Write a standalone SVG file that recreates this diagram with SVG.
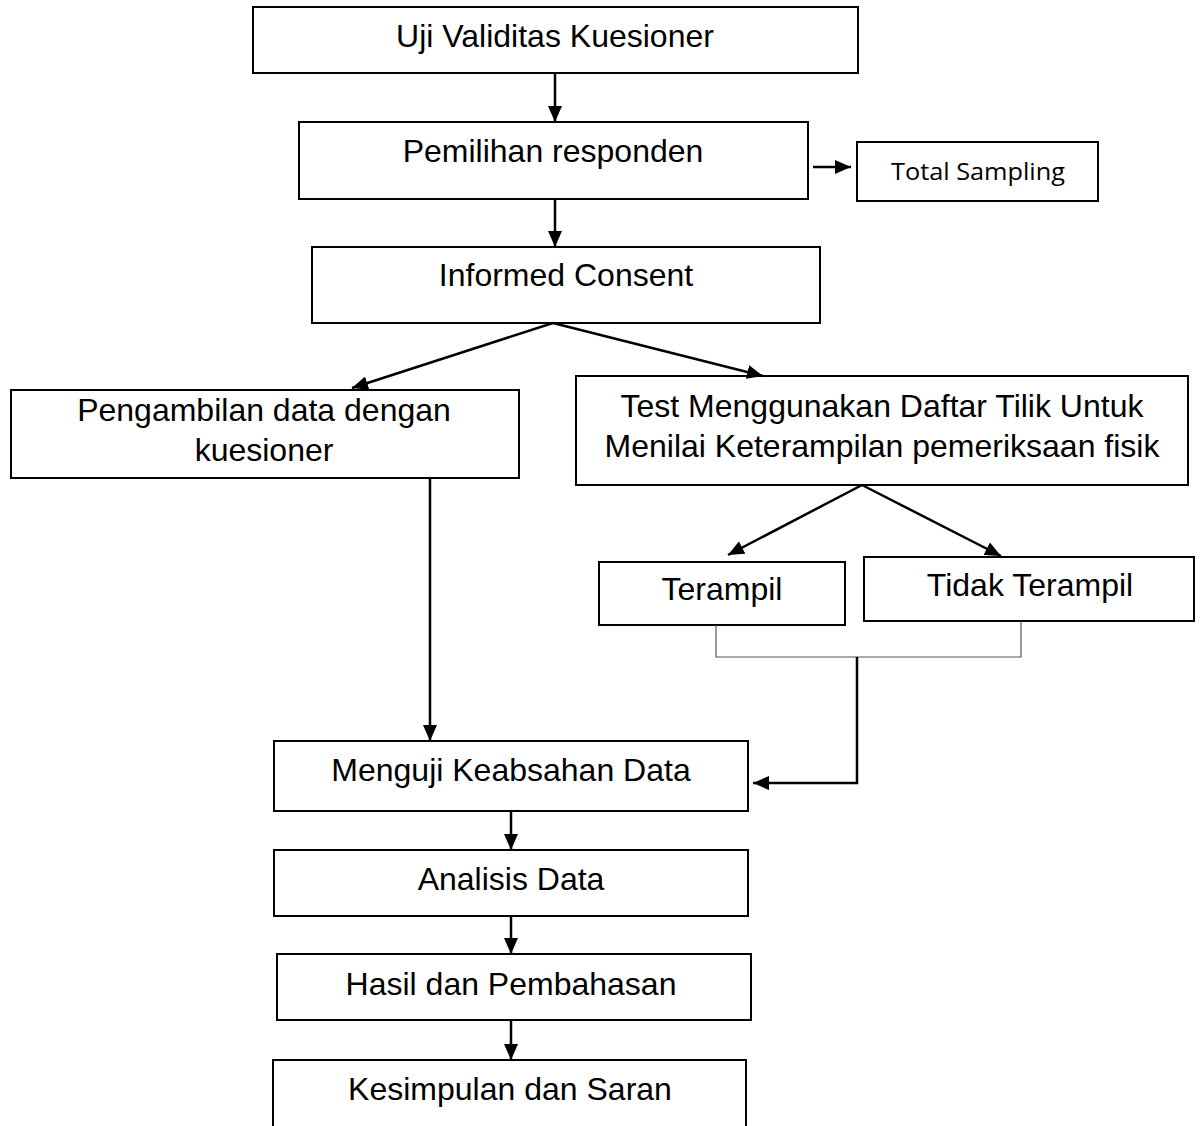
<svg xmlns="http://www.w3.org/2000/svg" width="1203" height="1126" viewBox="0 0 1203 1126">
<style>
.box{fill:#fff;stroke:#000;stroke-width:2}
.t{font-family:"Liberation Sans",Arial,sans-serif;font-size:32px;fill:#000;text-anchor:middle}
.ts{font-family:"Open Sans","Noto Sans",sans-serif;font-size:23px;fill:#000;text-anchor:middle}
.c{fill:none;stroke:#000;stroke-width:2.5}
.thin{fill:none;stroke:#555;stroke-width:1.2}
</style>
<defs>
<marker id="ah" viewBox="0 0 16 14" refX="16" refY="7" markerWidth="16" markerHeight="14" markerUnits="userSpaceOnUse" orient="auto">
<path d="M0,0 L16,7 L0,14 z" fill="#000"/>
</marker>
</defs>
<rect width="1203" height="1126" fill="#fff"/>
<g id="n1"><rect class="box" x="253" y="7" width="605" height="66"/><text class="t" x="555" y="47">Uji Validitas Kuesioner</text></g>
<g id="n2"><rect class="box" x="299" y="122" width="509" height="77"/><text class="t" x="553" y="162">Pemilihan responden</text></g>
<g id="n3"><rect class="box" x="857" y="142" width="241" height="59"/><text class="ts" x="978" y="180" textLength="174" lengthAdjust="spacingAndGlyphs">Total Sampling</text></g>
<g id="n4"><rect class="box" x="312" y="247" width="508" height="76"/><text class="t" x="566" y="286">Informed Consent</text></g>
<g id="n5"><rect class="box" x="11" y="390" width="508" height="88"/><text class="t" x="264" y="421">Pengambilan data dengan</text><text class="t" x="264" y="461">kuesioner</text></g>
<g id="n6"><rect class="box" x="576" y="376" width="612" height="109"/><text class="t" x="882" y="417">Test Menggunakan Daftar Tilik Untuk</text><text class="t" x="882" y="457">Menilai Keterampilan pemeriksaan fisik</text></g>
<g id="n7"><rect class="box" x="599" y="562" width="246" height="63"/><text class="t" x="722" y="600">Terampil</text></g>
<g id="n8"><rect class="box" x="864" y="557" width="330" height="64"/><text class="t" x="1030" y="596">Tidak Terampil</text></g>
<g id="n9"><rect class="box" x="274" y="741" width="474" height="70"/><text class="t" x="511" y="781">Menguji Keabsahan Data</text></g>
<g id="n10"><rect class="box" x="274" y="850" width="474" height="66"/><text class="t" x="511" y="890">Analisis Data</text></g>
<g id="n11"><rect class="box" x="277" y="954" width="474" height="66"/><text class="t" x="511" y="995">Hasil dan Pembahasan</text></g>
<g id="n12"><rect class="box" x="273" y="1060" width="473" height="80"/><text class="t" x="510" y="1100">Kesimpulan dan Saran</text></g>
<g id="connectors">
<line class="c" x1="555" y1="73" x2="555" y2="122" marker-end="url(#ah)"/>
<line class="c" x1="555" y1="199" x2="555" y2="247" marker-end="url(#ah)"/>
<line class="c" x1="813" y1="167" x2="851" y2="167" marker-end="url(#ah)"/>
<line class="c" x1="553" y1="323" x2="352" y2="388" marker-end="url(#ah)"/>
<line class="c" x1="553" y1="323" x2="763" y2="376" marker-end="url(#ah)"/>
<line class="c" x1="430" y1="478" x2="430" y2="741" marker-end="url(#ah)"/>
<line class="c" x1="862" y1="485" x2="728" y2="555" marker-end="url(#ah)"/>
<line class="c" x1="862" y1="485" x2="1001" y2="556" marker-end="url(#ah)"/>
<polyline class="thin" points="716,625 716,657 1021,657 1021,621"/>
<polyline class="c" points="857,657 857,783 753,783" marker-end="url(#ah)"/>
<line class="c" x1="511" y1="811" x2="511" y2="850" marker-end="url(#ah)"/>
<line class="c" x1="511" y1="916" x2="511" y2="954" marker-end="url(#ah)"/>
<line class="c" x1="511" y1="1020" x2="511" y2="1060" marker-end="url(#ah)"/>
</g>
</svg>
